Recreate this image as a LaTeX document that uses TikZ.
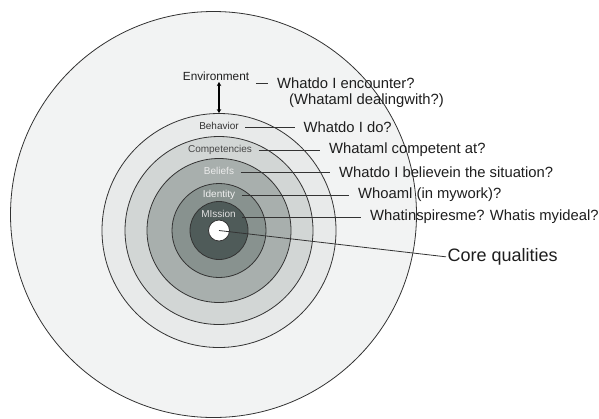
\documentclass[tikz,border=0pt]{standalone}
\usepackage{fontspec}
\setmainfont{Liberation Sans}
\usetikzlibrary{arrows.meta}
\definecolor{ringline}{HTML}{333333}
\definecolor{envfill}{HTML}{F2F3F3}
\definecolor{behfill}{HTML}{E8EAEA}
\definecolor{compfill}{HTML}{D2D6D5}
\definecolor{belfill}{HTML}{A8AFAD}
\definecolor{idfill}{HTML}{88928F}
\definecolor{misfill}{HTML}{4F5B59}
\definecolor{qtext}{HTML}{1E1E1E}
\tikzset{
  ring/.style={circle, draw=ringline, line width=0.8bp, inner sep=0},
  lbl/.style={inner sep=0, font=\fontsize{10bp}{12bp}\selectfont},
  quest/.style={anchor=west, inner sep=0, text=qtext, font=\fontsize{14.8bp}{17bp}\selectfont},
  lead/.style={draw=ringline, line width=0.8bp, shorten <=6.5bp, shorten >=9bp}
}
\begin{document}
\begin{tikzpicture}[x=1bp, y=-1bp]
  \fill[white] (0,0) rectangle (599,418);
  \useasboundingbox (0,0) rectangle (599,418);
  \coordinate (ctr) at (219,230.5);
  % rings, outside in
  \node[ring, fill=envfill, minimum size=406bp] (envring) at (213.5,214.5) {};
  \node[ring, fill=behfill, minimum size=234bp] (behring) at (ctr) {};
  \node[ring, fill=compfill, minimum size=188bp] (compring) at (ctr) {};
  \node[ring, fill=belfill, minimum size=144bp] (belring) at (ctr) {};
  \node[ring, fill=idfill, minimum size=94bp] (idring) at (ctr) {};
  \node[ring, fill=misfill, minimum size=58bp] (misring) at (ctr) {};
  \node[ring, fill=white, minimum size=21bp] (corering) at (ctr) {};
  % ring labels
  \node[lbl, text=qtext, font=\fontsize{11.8bp}{14bp}\selectfont] (env) at (216,76) {Environment};
  \node[lbl, text=ringline] (beh) at (219,126) {Behavior};
  \node[lbl, text=ringline!90] (comp) at (220,150) {Competencies};
  \node[lbl, text=white!92!black] (bel) at (219,170.5) {Beliefs};
  \node[lbl, text=white!94!black] (id) at (219,195) {Identity};
  \node[lbl, text=white!88!black] (mis) at (218.5,213.5) {MIssion};
  % questions
  \node[quest] (qenv) at (277,83) {Whatdo I encounter?};
  \node[quest] (qenv2) at (289,101) {(Whataml dealingwith?)};
  \node[quest] (qbeh) at (303.5,127.5) {Whatdo I do?};
  \node[quest] (qcomp) at (329,150) {Whataml competent at?};
  \node[quest] (qbel) at (339,172) {Whatdo I believein the situation?};
  \node[quest] (qid) at (358,195) {Whoaml (in mywork)?};
  \node[quest] (qmis) at (370,217) {Whatinspiresme? Whatis myideal?};
  \node[quest, font=\fontsize{18bp}{21bp}\selectfont] (qcore) at (447.5,257) {Core qualities};
  % connectors
  \draw[lead] (env.east |- qenv.west) -- (qenv.west);
  \draw[lead] (beh.east |- qbeh.west) -- (qbeh.west);
  \draw[lead] (comp.east |- qcomp.west) -- (qcomp.west);
  \draw[lead] (bel.east |- qbel.west) -- (qbel.west);
  \draw[lead] (id.east |- qid.west) -- (qid.west);
  \draw[lead] (mis.east |- qmis.west) -- (qmis.west);
  \draw[draw=ringline, line width=0.8bp, shorten >=1.5bp] (corering.center) -- (qcore.west);
  \draw[{Stealth[length=4bp,width=4.5bp]}-{Stealth[length=4bp,width=4.5bp]}, line width=1.4bp, shorten <=1.5bp]
    (env.south -| behring.north) -- (behring.north);
\end{tikzpicture}
\end{document}
